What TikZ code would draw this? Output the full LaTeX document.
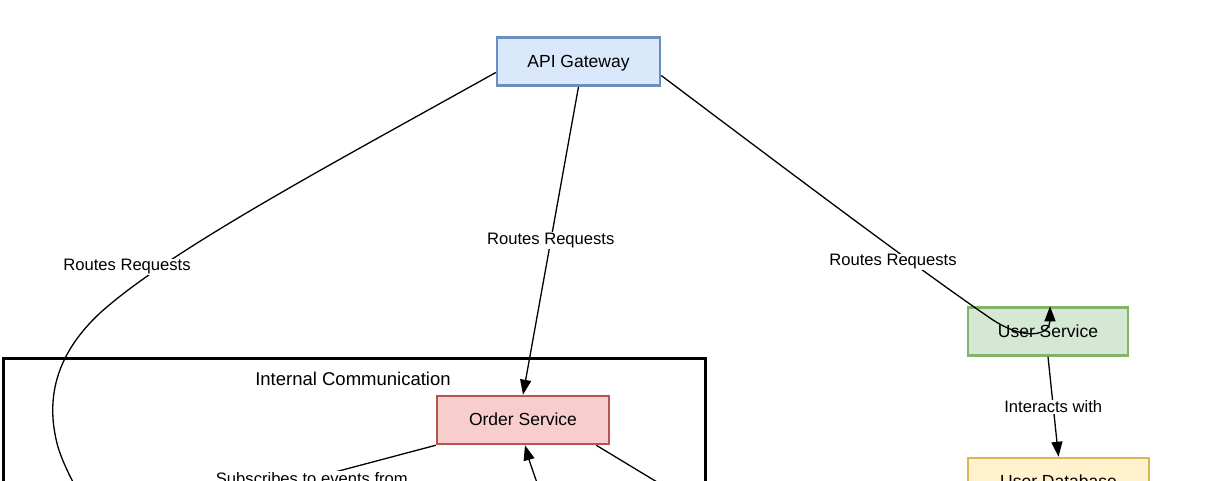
\documentclass[tikz,border=0pt]{standalone}
\usepackage{fontspec}
\setmainfont{Liberation Sans}
\usetikzlibrary{positioning, arrows.meta, calc}

\definecolor{gwfill}{HTML}{DAE8FC}
\definecolor{gwline}{HTML}{6C8EBF}
\definecolor{usfill}{HTML}{D5E8D4}
\definecolor{usline}{HTML}{82B366}
\definecolor{osfill}{HTML}{F8CECC}
\definecolor{osline}{HTML}{B85450}
\definecolor{dbfill}{HTML}{FFF2CC}
\definecolor{dbline}{HTML}{D6B656}

\begin{document}
\begin{tikzpicture}[x=1pt, y=-1pt,
		box/.style={rectangle, line width=2.5pt, minimum height=48pt, inner sep=0pt, text depth=1pt, font=\fontsize{17.5}{21}\selectfont},
		edge/.style={line width=1.3pt, -{Triangle[length=15pt, width=11pt]}},
		lbl/.style={fill=white, inner sep=1pt, font=\fontsize{16.6}{20}\selectfont}]
		\useasboundingbox (0,0) rectangle (1219,480);
		\clip (0,0) rectangle (1219,480);
		% cluster frame
		\draw[line width=3pt] (3.5,358.5) rectangle (705.5,640);
		\node[font=\fontsize{18.5}{22}\selectfont] (clab) at (353,379) {Internal Communication};
		% services
		\node[box, fill=gwfill, draw=gwline, minimum width=163pt] (api) at (578.5,61.5) {API Gateway};
		\node[box, fill=usfill, draw=usline, minimum width=160pt] (usr) at (1048,331.5) {User Service};
		\node[box, fill=osfill, draw=osline, minimum width=172pt] (ord) at (523,420) {Order Service};
		\node[box, fill=dbfill, draw=dbline, minimum width=181pt] (udb) at (1058.5,482) {User Database};
		% ends below the picture
		\coordinate (gwout) at (100,530);
		\coordinate (evsrc) at (188,511);
		\coordinate (evhub) at (560,560);
		\coordinate (ordout) at (700,508);
		% routes
		\draw[edge] ([yshift=-11pt]api.west) .. controls (330,165) and (170,250) .. (100,313) .. controls (55,355) and (45,400) .. (58,447) .. controls (65,470) and (80,495) .. (gwout);
		\node[lbl] (r1) at (127,267) {Routes Requests};
		\draw[edge] (api.south) -- (ord.north) node[lbl, pos=0.5] (r2) {Routes Requests};
		\draw[edge] ([yshift=-14pt]api.east) .. controls (800,180) and (920,270) .. (990,318) .. controls (1025,342) and (1050,335) .. ([xshift=2pt]usr.north);
		\node[lbl] (r3) at (893,262) {Routes Requests};
		\draw[edge] (usr.south) -- (udb.north) node[lbl, pos=0.5] (iw) {Interacts with};
		% internal
		\draw[edge] (ord.south west) -- (evsrc) node[lbl, pos=0.5] (sub) {Subscribes to events from};
		\draw[edge] (evhub) .. controls (548,510) and (532,470) .. ([xshift=2pt]ord.south);
		\draw[edge] ([xshift=-14pt]ord.south east) -- (ordout);
	\end{tikzpicture}
\end{document}
